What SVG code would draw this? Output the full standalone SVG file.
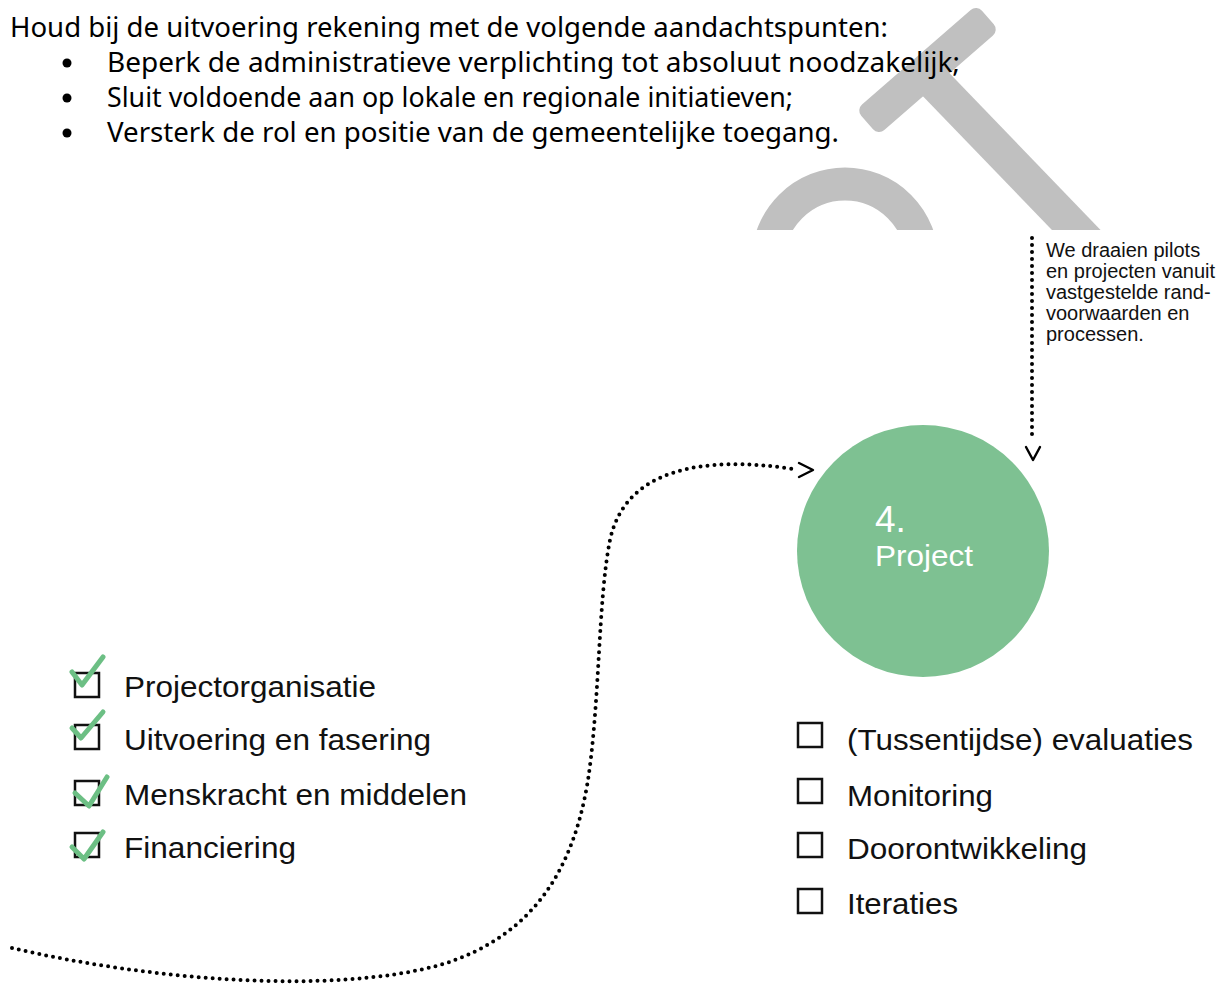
<svg xmlns="http://www.w3.org/2000/svg" width="1223" height="990" viewBox="0 0 1223 990">
<defs>
<clipPath id="cut"><rect x="0" y="0" width="1223" height="230"/></clipPath>
<style>
.intro{font-family:"Noto Sans","Open Sans",sans-serif;font-size:27.5px;fill:#000}
.item{font-family:"Liberation Sans",Arial,sans-serif;font-size:30px;fill:#111}
.note{font-family:"Liberation Sans",Arial,sans-serif;font-size:20px;fill:#111}
.box{fill:none;stroke:#111;stroke-width:2.5}
.tick{fill:none;stroke:#6cbf84;stroke-width:5;stroke-linecap:round;stroke-linejoin:round}
.dots{fill:none;stroke:#000;stroke-width:4;stroke-linecap:round;stroke-dasharray:0 7}
.chev{fill:none;stroke:#000;stroke-width:2.4;stroke-linecap:round;stroke-linejoin:round}
.gray{fill:none;stroke:#c0c0c0}
</style>
</defs>
<rect width="1223" height="990" fill="#fff"/>
<g id="watermark" clip-path="url(#cut)">
<rect x="847.5" y="53" width="160" height="34" rx="8" fill="#c0c0c0" transform="rotate(-41 927.5 70)"/>
<line x1="922" y1="70" x2="1110" y2="265" class="gray" stroke-width="35"/>
<circle cx="845" cy="261" r="77" class="gray" stroke-width="33"/>
</g>
<g id="intro">
<text class="intro" x="10" y="37" textLength="878" lengthAdjust="spacingAndGlyphs">Houd bij de uitvoering rekening met de volgende aandachtspunten:</text>
<circle cx="67" cy="63" r="4.5" fill="#000"/>
<text class="intro" x="107" y="72" textLength="853" lengthAdjust="spacingAndGlyphs">Beperk de administratieve verplichting tot absoluut noodzakelijk;</text>
<circle cx="67" cy="98" r="4.5" fill="#000"/>
<text class="intro" x="107" y="107" textLength="686" lengthAdjust="spacingAndGlyphs">Sluit voldoende aan op lokale en regionale initiatieven;</text>
<circle cx="67" cy="133" r="4.5" fill="#000"/>
<text class="intro" x="107" y="142" textLength="732" lengthAdjust="spacingAndGlyphs">Versterk de rol en positie van de gemeentelijke toegang.</text>
</g>
<g id="connectors">
<path class="dots" d="M12,948 C150,980 330,995 440,965 C540,935 575,860 588,780 C600,700 598,600 610,540 C625,470 700,455 793,469"/>
<polyline class="chev" points="799,463 813,470 799,477"/>
<line class="dots" x1="1032" y1="238" x2="1032" y2="440"/>
<polyline class="chev" points="1026,447 1033,460 1040,447"/>
</g>
<g id="note">
<text class="note" x="1046" y="257">We draaien pilots</text>
<text class="note" x="1046" y="278">en projecten vanuit</text>
<text class="note" x="1046" y="299">vastgestelde rand-</text>
<text class="note" x="1046" y="320">voorwaarden en</text>
<text class="note" x="1046" y="341">processen.</text>
</g>
<g id="project">
<circle cx="923" cy="551" r="126" fill="#7ec192"/>
<text x="875" y="532" font-family="Liberation Sans, Arial, sans-serif" font-size="37" fill="#fff">4.</text>
<text x="875" y="566" font-family="Liberation Sans, Arial, sans-serif" font-size="29" fill="#fff" textLength="98" lengthAdjust="spacingAndGlyphs">Project</text>
</g>
<g id="done-list">
<rect class="box" x="75" y="673" width="24" height="24"/>
<polyline class="tick" points="72,672 82,685 103,657"/>
<text class="item" x="124" y="697" textLength="252" lengthAdjust="spacingAndGlyphs">Projectorganisatie</text>
<rect class="box" x="75" y="725" width="24" height="24"/>
<polyline class="tick" points="72,728 81,738 103,712"/>
<text class="item" x="124" y="750" textLength="307" lengthAdjust="spacingAndGlyphs">Uitvoering en fasering</text>
<rect class="box" x="75" y="781" width="24" height="24"/>
<polyline class="tick" points="75,793 89,806 107,777"/>
<text class="item" x="124" y="805" textLength="343" lengthAdjust="spacingAndGlyphs">Menskracht en middelen</text>
<rect class="box" x="75" y="833" width="24" height="24"/>
<polyline class="tick" points="72,847 84,859 103,832"/>
<text class="item" x="124" y="858" textLength="172" lengthAdjust="spacingAndGlyphs">Financiering</text>
</g>
<g id="todo-list">
<rect class="box" x="798" y="723" width="24" height="24"/>
<text class="item" x="847" y="750" textLength="346" lengthAdjust="spacingAndGlyphs">(Tussentijdse) evaluaties</text>
<rect class="box" x="798" y="779" width="24" height="24"/>
<text class="item" x="847" y="806" textLength="146" lengthAdjust="spacingAndGlyphs">Monitoring</text>
<rect class="box" x="798" y="833" width="24" height="24"/>
<text class="item" x="847" y="859" textLength="240" lengthAdjust="spacingAndGlyphs">Doorontwikkeling</text>
<rect class="box" x="798" y="889" width="24" height="24"/>
<text class="item" x="847" y="914" textLength="111" lengthAdjust="spacingAndGlyphs">Iteraties</text>
</g>
</svg>
